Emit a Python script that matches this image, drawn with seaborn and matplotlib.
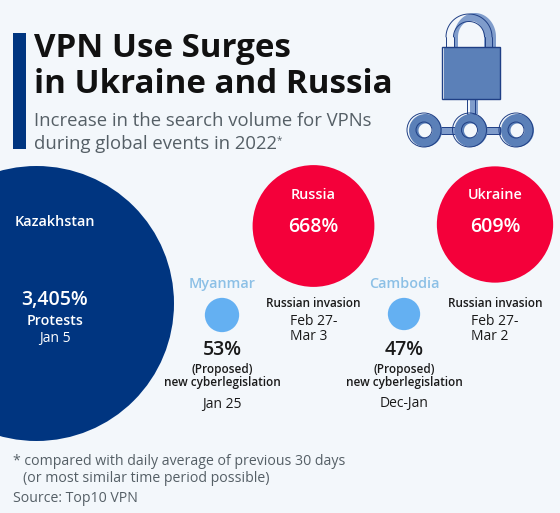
import numpy as np
import pandas as pd
import matplotlib
matplotlib.use("Agg")
import matplotlib.pyplot as plt
from matplotlib.patches import Rectangle, Circle, Wedge
import seaborn as sns

countries = ["Kazakhstan", "Russia", "Ukraine", "Myanmar", "Cambodia"]
increase_pct = [3405, 668, 609, 53, 47]

# layout (pixel positions of the bubble centres)
bubble_x = [36.5, 313.5, 495, 222, 404]
bubble_y = [303.5, 226, 224.5, 315, 314]
palette = {"Kazakhstan": "#003580", "Russia": "#f4003a", "Ukraine": "#f4003a",
           "Myanmar": "#64b0f2", "Cambodia": "#64b0f2"}
BG = "#f3f7fb"
DARK = "#1a1a1a"
GREY = "#555f66"

sns.set_theme(style="white")
plt.rcParams["font.family"] = ["Open Sans", "DejaVu Sans"]

fig = plt.figure(figsize=(5.6, 5.13), dpi=100, facecolor=BG)
ax = fig.add_axes([0, 0, 1, 1])
ax.set_facecolor(BG)

df = pd.DataFrame({"country": countries, "value": increase_pct, "x": bubble_x, "y": bubble_y})
d_max = 2 * 137.5 * 0.72  # marker diameter in points
sns.scatterplot(data=df, x="x", y="y", hue="country", palette=palette, size="value",
                sizes=(0, d_max ** 2), size_norm=(0, max(increase_pct)),
                linewidth=0, legend=False, ax=ax, zorder=2, clip_on=True)
ax.set_xlim(0, 560)
ax.set_ylim(513, 0)
ax.set_axis_off()


def T(x, y, s, size, color=DARK, weight="normal", ha="center"):
    ax.text(x, y, s, fontsize=size, color=color, fontweight=weight, ha=ha, va="baseline", zorder=5)


# header
ax.add_patch(Rectangle((13, 33), 12.5, 116, fc="#003580", ec="none"))
T(34, 57, "VPN Use Surges", 23.9, "#111111", "bold", "left")
T(34, 93, "in Ukraine and Russia", 23.9, "#111111", "bold", "left")
T(34, 126, "Increase in the search volume for VPNs", 13.3, GREY, "normal", "left")
T(34, 149, "during global events in 2022", 13.3, GREY, "normal", "left")
T(277, 143, "*", 7, GREY, "normal", "left")

# Kazakhstan
T(55, 226, countries[0], 10.4, "white", "semibold")
T(55, 305, f"{increase_pct[0]:,}%", 14, "white", "semibold")
T(55, 325, "Protests", 10.2, "white", "semibold")
T(55, 342, "Jan 5", 10, "white")

# Russia, Ukraine
for cx, lx, i, d1, d2 in [(313, 290, 1, "Feb 27-", "Mar 3"), (495, 471, 2, "Feb 27-", "Mar 2")]:
    T(cx, 199, countries[i], 10.4, "white", "semibold")
    T(cx, 232, f"{increase_pct[i]}%", 14, "white", "semibold")
    T(cx, 307, "Russian invasion", 8.5, DARK, "semibold")
    T(lx, 325, d1, 10, DARK, "normal", "left")
    T(lx, 340, d2, 10, DARK, "normal", "left")

# Myanmar, Cambodia
for cx, i, d, dy in [(222, 3, "Jan 25", 408), (404, 4, "Dec-Jan", 407)]:
    T(cx, 288, countries[i], 10.4, "#8cc0e6", "semibold")
    T(cx, 355, f"{increase_pct[i]}%", 14, DARK, "semibold")
    T(cx, 373, "(Proposed)", 8.5, DARK, "semibold")
    T(cx, 386, "new cyberlegislation", 8.5, DARK, "semibold")
    T(cx, dy, d, 10, DARK)

# footer
T(13, 465, "* compared with daily average of previous 30 days", 10.2, GREY, "normal", "left")
T(23, 482, "(or most similar time period possible)", 10.2, GREY, "normal", "left")
T(13, 502, "Source: Top10 VPN", 10.2, GREY, "normal", "left")

# padlock icon
FILL = "#5b80b8"
LINE = "#1f3f85"
LW = 0.7
th = np.linspace(np.pi, 2 * np.pi, 60)
ox, oy = 475 + 21 * np.cos(th), 37 + 24 * np.sin(th)
ix, iy = 471 + 13 * np.cos(th), 37 + 16 * np.sin(th)
ax.fill(np.r_[454, ox, 496, 484, ix[::-1], 458], np.r_[47, oy, 47, 47, iy[::-1], 47],
        fc="#7f9ccb", ec="none", zorder=3)
for r in (23, 15.5):
    ax.plot(469 + r * np.cos(th), 37 + r * np.sin(th), color=LINE, lw=LW, zorder=4)
    ax.plot([469 - r, 469 - r], [37, 47], color=LINE, lw=LW, zorder=4)
    ax.plot([469 + r, 469 + r], [37, 47], color=LINE, lw=LW, zorder=4)
ax.add_patch(Rectangle((443.5, 47), 57.5, 52, fc=FILL, ec="none", zorder=3))
ax.add_patch(Rectangle((441.5, 47), 58, 52, fc="none", ec=LINE, lw=1, zorder=4))
# stem and links
ax.add_patch(Rectangle((470, 99), 8, 15, fc="#7f9ccb", ec="none", zorder=3))
ax.add_patch(Rectangle((466.5, 99), 8, 15, fc="none", ec=LINE, lw=LW, zorder=4))
for x0 in (441, 486):
    ax.add_patch(Rectangle((x0, 126.5), 14, 7.5, fc="#7f9ccb", ec="none", zorder=3))
    ax.add_patch(Rectangle((x0, 126.5), 14, 7.5, fc="none", ec=LINE, lw=LW, zorder=4))
for cx in (424.5, 470, 516.5):
    ax.add_patch(Wedge((cx + 1, 130.5), 16.5, 0, 360, width=9.5, fc=FILL, ec="none", zorder=5))
    ax.add_patch(Circle((cx - 0.5, 130), 17, fc="none", ec=LINE, lw=LW, zorder=6))
    ax.add_patch(Circle((cx - 0.5, 130), 8, fc="none", ec=LINE, lw=LW, zorder=6))

fig.savefig("out.png", dpi=100, facecolor=BG)
